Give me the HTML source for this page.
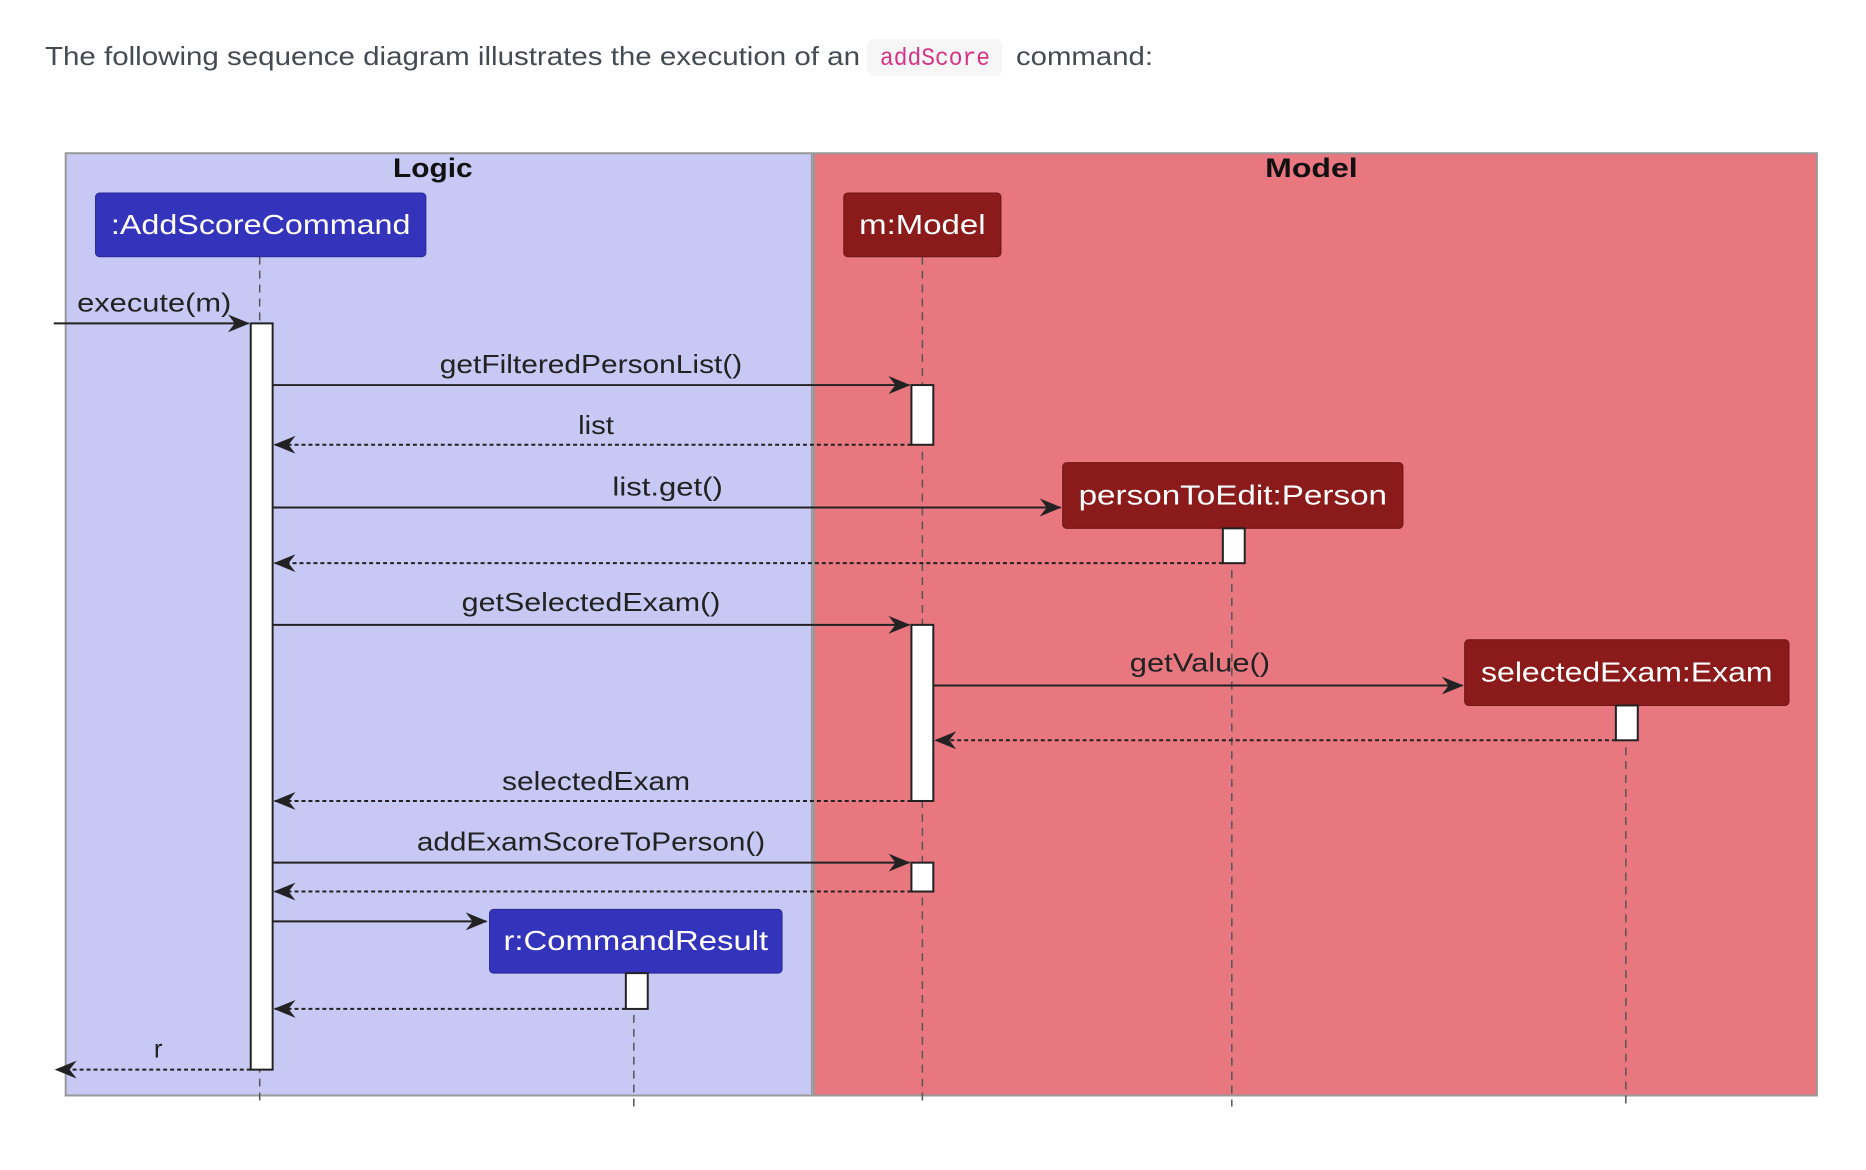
<!DOCTYPE html>
<html><head><meta charset="utf-8"><style>
html,body{margin:0;padding:0;background:#fff;width:1866px;height:1170px;overflow:hidden}
svg{display:block}
</style></head><body>
<svg width="1866" height="1170" xmlns="http://www.w3.org/2000/svg" font-family="Liberation Sans, DejaVu Sans, sans-serif">
<defs>
<marker id="a" markerWidth="22" markerHeight="20" refX="21" refY="10" orient="auto" markerUnits="userSpaceOnUse">
<path d="M0,1 L22,10 L0,19 L7,10 Z" fill="#222"/>
</marker>
</defs>
<text x="45" y="65" font-size="26" fill="#454b52" textLength="815" lengthAdjust="spacingAndGlyphs">The following sequence diagram illustrates the execution of an</text>
<rect x="867" y="39" width="135" height="37" rx="7" fill="#f6f6f7"/>
<text x="880" y="65" font-size="25" fill="#d63384" font-family="Liberation Mono, monospace" textLength="110" lengthAdjust="spacingAndGlyphs">addScore</text>
<text x="1016" y="65" font-size="26" fill="#454b52" textLength="137" lengthAdjust="spacingAndGlyphs">command:</text>

<g transform="scale(0.995)">
<rect x="66" y="154" width="750" height="947" fill="#c8c8f5" stroke="#999" stroke-width="2"/>
<rect x="818" y="154" width="1008" height="947" fill="#e87780" stroke="#999" stroke-width="2"/>
<text x="435" y="178" font-size="27" font-weight="bold" text-anchor="middle" fill="#111" textLength="80" lengthAdjust="spacingAndGlyphs">Logic</text>
<text x="1318" y="178" font-size="27" font-weight="bold" text-anchor="middle" fill="#111" textLength="93" lengthAdjust="spacingAndGlyphs">Model</text>

<g stroke="#555" stroke-width="1.5" stroke-dasharray="8,6">
<line x1="261" y1="258" x2="261" y2="1112"/>
<line x1="927" y1="258" x2="927" y2="1112"/>
<line x1="1238" y1="531" x2="1238" y2="1112"/>
<line x1="1634" y1="709" x2="1634" y2="1112"/>
<line x1="637" y1="978" x2="637" y2="1112"/>
</g>

<g font-size="28" fill="#fff" text-anchor="middle">
<rect x="96" y="194" width="332" height="64" rx="4" fill="#3333bb" stroke="#2a2a99"/>
<text x="262" y="235" textLength="301" lengthAdjust="spacingAndGlyphs">:AddScoreCommand</text>
<rect x="848" y="194" width="158" height="64" rx="4" fill="#8b1a1a" stroke="#701515"/>
<text x="927" y="235" textLength="127" lengthAdjust="spacingAndGlyphs">m:Model</text>
<rect x="1068" y="465" width="342" height="66" rx="4" fill="#8b1a1a" stroke="#701515"/>
<text x="1239" y="507" textLength="310" lengthAdjust="spacingAndGlyphs">personToEdit:Person</text>
<rect x="1472" y="643" width="326" height="66" rx="4" fill="#8b1a1a" stroke="#701515"/>
<text x="1635" y="685" textLength="293" lengthAdjust="spacingAndGlyphs">selectedExam:Exam</text>
<rect x="492" y="914" width="294" height="64" rx="4" fill="#3333bb" stroke="#2a2a99"/>
<text x="639" y="955" textLength="266" lengthAdjust="spacingAndGlyphs">r:CommandResult</text>
</g>

<g fill="#fff" stroke="#222" stroke-width="2">
<rect x="252" y="325" width="22" height="750"/>
<rect x="916" y="387" width="22" height="60"/>
<rect x="1229" y="531" width="22" height="35"/>
<rect x="916" y="628" width="22" height="177"/>
<rect x="1624" y="709" width="22" height="35"/>
<rect x="916" y="867" width="22" height="29"/>
<rect x="629" y="978" width="22" height="36"/>
</g>

<g stroke="#222" stroke-width="2" fill="none" marker-end="url(#a)">
<line x1="54" y1="325" x2="250" y2="325"/>
<line x1="274" y1="387" x2="914" y2="387"/>
<line x1="274" y1="510" x2="1066" y2="510"/>
<line x1="274" y1="628" x2="914" y2="628"/>
<line x1="938" y1="689" x2="1470" y2="689"/>
<line x1="274" y1="867" x2="914" y2="867"/>
<line x1="274" y1="926" x2="489" y2="926"/>
</g>
<g stroke="#222" stroke-width="2" fill="none" stroke-dasharray="4,3" marker-end="url(#a)">
<line x1="916" y1="447" x2="276" y2="447"/>
<line x1="1229" y1="566" x2="276" y2="566"/>
<line x1="1624" y1="744" x2="940" y2="744"/>
<line x1="916" y1="805" x2="276" y2="805"/>
<line x1="916" y1="896" x2="276" y2="896"/>
<line x1="629" y1="1014" x2="276" y2="1014"/>
<line x1="252" y1="1075" x2="56" y2="1075"/>
</g>

<g font-size="26" fill="#222" text-anchor="middle">
<text x="155" y="313" textLength="155" lengthAdjust="spacingAndGlyphs">execute(m)</text>
<text x="594" y="375" textLength="304" lengthAdjust="spacingAndGlyphs">getFilteredPersonList()</text>
<text x="599" y="436" textLength="36" lengthAdjust="spacingAndGlyphs">list</text>
<text x="671" y="498" textLength="111" lengthAdjust="spacingAndGlyphs">list.get()</text>
<text x="594" y="614" textLength="260" lengthAdjust="spacingAndGlyphs">getSelectedExam()</text>
<text x="1206" y="675" textLength="141" lengthAdjust="spacingAndGlyphs">getValue()</text>
<text x="599" y="794" textLength="189" lengthAdjust="spacingAndGlyphs">selectedExam</text>
<text x="594" y="855" textLength="350" lengthAdjust="spacingAndGlyphs">addExamScoreToPerson()</text>
<text x="159" y="1063">r</text>
</g>
</g>
</svg>
</body></html>
